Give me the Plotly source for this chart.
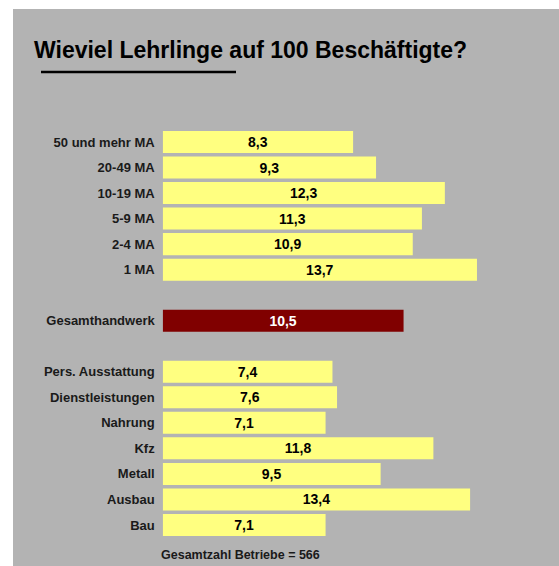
import plotly.graph_objects as go

size_labels = ["50 und mehr MA", "20-49 MA", "10-19 MA", "5-9 MA", "2-4 MA", "1 MA"]
size_values = [8.3, 9.3, 12.3, 11.3, 10.9, 13.7]
total_label = ["Gesamthandwerk"]
total_value = [10.5]
sector_labels = ["Pers. Ausstattung", "Dienstleistungen", "Nahrung", "Kfz", "Metall", "Ausbau", "Bau"]
sector_values = [7.4, 7.6, 7.1, 11.8, 9.5, 13.4, 7.1]

title_text = "Wieviel Lehrlinge auf 100 Beschäftigte?"
footer_text = "Gesamtzahl Betriebe = 566"

W, H = 559, 566
FONT = "Liberation Sans, Arial, sans-serif"
YELLOW = "#ffff80"
DARKRED = "#800000"
GRAY = "#b3b3b3"

category_order = size_labels + [" "] + total_label + ["  "] + sector_labels

fig = go.Figure()
val_font = dict(family=FONT, size=14, color="black", weight="bold")
fig.add_trace(go.Bar(y=size_labels, x=size_values, orientation="h",
                     marker=dict(color=YELLOW, line=dict(width=0)),
                     texttemplate="%{x:.1f}", textposition="inside",
                     insidetextanchor="middle", textangle=0,
                     insidetextfont=val_font, hoverinfo="skip"))
fig.add_trace(go.Bar(y=total_label, x=total_value, orientation="h",
                     marker=dict(color=DARKRED, line=dict(width=0)),
                     texttemplate="%{x:.1f}", textposition="inside",
                     insidetextanchor="middle", textangle=0,
                     insidetextfont=dict(family=FONT, size=14, color="white", weight="bold"),
                     hoverinfo="skip"))
fig.add_trace(go.Bar(y=sector_labels, x=sector_values, orientation="h",
                     marker=dict(color=YELLOW, line=dict(width=0)),
                     texttemplate="%{x:.1f}", textposition="inside",
                     insidetextanchor="middle", textangle=0,
                     insidetextfont=val_font, hoverinfo="skip"))

x0_px = 162.7
px_per_unit = 22.94
xmax = 16.0
x_end_px = x0_px + xmax * px_per_unit
slot = 25.53
y_top_px = 142 - slot / 2
y_bot_px = y_top_px + slot * len(category_order)

fig.update_layout(
    width=W, height=H,
    margin=dict(l=0, r=0, t=0, b=0),
    paper_bgcolor="white",
    plot_bgcolor="rgba(0,0,0,0)",
    showlegend=False,
    barmode="overlay",
    bargap=0.138,
    separators=",.",
    uniformtext=dict(mode=False),
    xaxis=dict(domain=[x0_px / W, x_end_px / W], range=[0, xmax],
               visible=False, fixedrange=True),
    yaxis=dict(domain=[1 - y_bot_px / H, 1 - y_top_px / H],
               type="category", categoryorder="array", categoryarray=category_order,
               range=[len(category_order) - 0.5, -0.5],
               showgrid=False, zeroline=False, showline=False, ticks="",
               ticklabelstandoff=7,
               tickfont=dict(family=FONT, size=13, color="#1a1a1a", weight="bold"),
               fixedrange=True),
    shapes=[
        dict(type="rect", xref="paper", yref="paper", layer="below",
             x0=13 / W, x1=1, y0=0, y1=1 - 9 / H,
             fillcolor=GRAY, line=dict(width=0)),
        dict(type="line", xref="paper", yref="paper",
             x0=41 / W, x1=236 / W, y0=1 - 72 / H, y1=1 - 72 / H,
             line=dict(color="black", width=2.5)),
    ],
    annotations=[
        dict(text=title_text, xref="paper", yref="paper",
             x=32 / W, y=1 - 50 / H, xanchor="left", yanchor="middle",
             showarrow=False,
             font=dict(family=FONT, size=23, color="black", weight="bold")),
        dict(text=footer_text, xref="paper", yref="paper",
             x=240.5 / W, y=1 - 555 / H, xanchor="center", yanchor="middle",
             showarrow=False,
             font=dict(family=FONT, size=12.5, color="#1a1a1a", weight="bold")),
    ],
)

fig.write_html("out.html", config=dict(displayModeBar=False),
               post_script="document.body.style.margin='0';document.body.style.overflow='hidden';")
